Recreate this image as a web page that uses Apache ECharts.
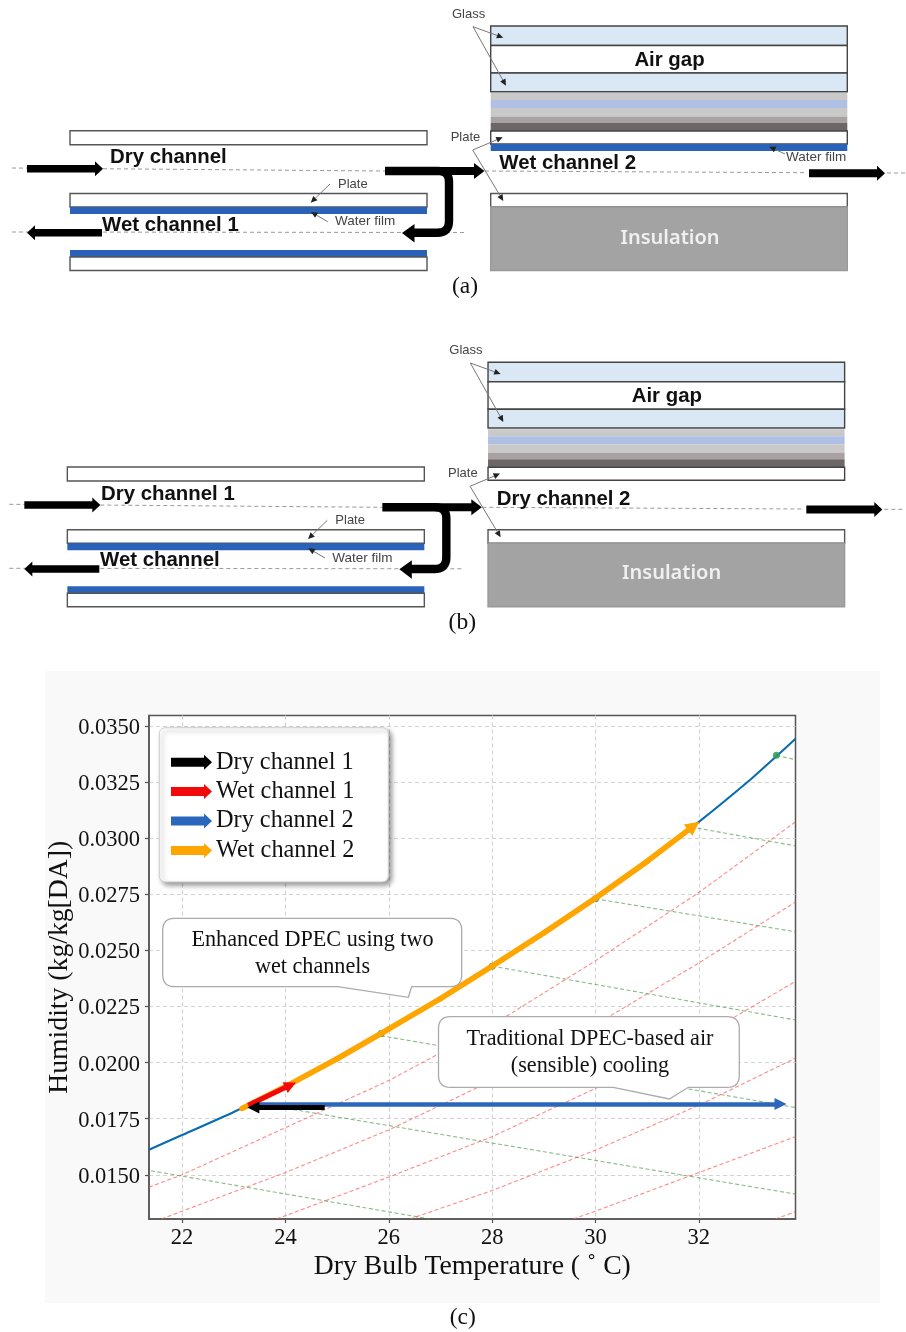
<!DOCTYPE html>
<html>
<head>
<meta charset="utf-8">
<style>html,body{margin:0;padding:0;background:#fff}#c{width:906px;height:1332px}</style>
<script src="https://cdn.jsdelivr.net/npm/echarts@6/dist/echarts.min.js"></script>
</head>
<body>
<div id="c"></div>
<script>
// ---- tick labels ----
const xTicks = [22, 24, 26, 28, 30, 32];
const yTicks = [0.015, 0.0175, 0.02, 0.0225, 0.025, 0.0275, 0.03, 0.0325, 0.035];
// ---- saturation curve ----
const saturation = [[21.36,0.01612],[22,0.01677],[23,0.0178],[24,0.01893],[25,0.02017],[26,0.0215],[27,0.02285],[28,0.0243],[29,0.02578],[30,0.02733],[31,0.02897],[32,0.03073],[33,0.03262],[33.5,0.03365],[33.87,0.03443]];
const statePoints = [[23.4,0.0182],[25.85,0.0213],[28,0.0243],[30,0.0273],[31.85,0.0304],[33.5,0.0337]];
// ---- process paths ----
const dryChannel1 = [[24.76,0.0180],[23.38,0.0180]];
const wetChannel1 = [[23.28,0.0181],[24.1,0.0190]];
const dryChannel2 = [[23.3,0.01815],[33.58,0.01815]];
const wetChannel2 = [[23.16,0.01796],[24,0.01893],[25,0.02017],[26,0.0215],[27,0.02285],[28,0.0243],[29,0.02578],[30,0.02733],[31,0.02897],[31.9,0.03055]];
// ---- green dashed lines ----
const green1 = [[33.5,0.0337],[33.87,0.0335]];
const green2 = [[31.85,0.0305],[33.87,0.02966]];
const green3 = [[30,0.0273],[33.87,0.02583]];
const green4 = [[28,0.0243],[33.87,0.0219]];
const green5 = [[25.85,0.0212],[33.87,0.0180]];
const green6 = [[23.4,0.0182],[33.87,0.01414]];
const green7 = [[21.4,0.01518],[26.8,0.01303]];
// ---- red dashed lines ----
const red1 = [[21.36,0.01445],[22,0.0150],[24,0.0171],[26,0.0192],[28,0.02167],[30,0.02454],[32,0.02758],[33.87,0.03073]];
const red2 = [[21.6,0.01303],[22,0.01338],[24,0.0151],[26,0.0170],[28,0.0192],[30,0.02169],[32,0.02444],[33.87,0.02716]];
const red3 = [[23.83,0.01303],[26,0.0149],[28,0.0167],[30,0.01885],[32,0.0211],[33.87,0.02362]];
const red4 = [[26.41,0.01303],[28,0.0143],[30,0.0161],[32,0.0181],[33.87,0.0202]];
const red5 = [[29.57,0.01303],[30,0.01338],[32,0.0151],[33.87,0.0167]];
const red6 = [[33.48,0.01303],[33.87,0.01335]];
// ---- text ----
const legendNames = ['Dry channel 1','Wet channel 1','Dry channel 2','Wet channel 2'];
const legendColors = ['#000000','#f20a0a','#2a66bc','#ffa500'];
const xLabel = 'Dry Bulb Temperature ( \u02DA C)';
const yLabel = 'Humidity (kg/kg[DA])';

const SERIF = '"Liberation Serif","Times New Roman",serif';
const SANS = '"Liberation Sans",Arial,sans-serif';
const ARROW_ICON = 'path://M0 3 L33 3 L33 0 L41 7.5 L33 15 L33 12 L0 12 Z';

function dashed(data, color){
  return {type:'line', data, showSymbol:false, symbol:'none', silent:true, z:2,
    lineStyle:{color, width:1.1, type:[4,2.5]}};
}
function arrowSeries(name, pts, color, width, size){
  const segs = [];
  for(let i=0;i<pts.length-1;i++){
    const d = {coords:[pts[i],pts[i+1]]};
    if(i===pts.length-2) d.symbol = ['none','triangle'];
    segs.push(d);
  }
  return {type:'lines', name, coordinateSystem:'cartesian2d', polyline:false, z:5,
    symbol:['none','none'], symbolSize:size, silent:true,
    lineStyle:{color, width, opacity:1, curveness:0, cap:pts.length>2?'round':'butt'}, itemStyle:{color}, data:segs};
}

// ---- schematic helpers (drawn in panel (a)'s frame, group moved for (b)) ----
function rect(x1,y1,x2,y2,fill,stroke,lw){
  return {type:'rect', shape:{x:x1,y:y1,width:x2-x1,height:y2-y1},
    style:{fill, stroke:stroke||null, lineWidth:lw==null?1.4:lw}};
}
function txt(text,x,y,font,fill,align){
  return {type:'text', style:{text,x,y,font,fill:fill||'#111',align:align||'left',verticalAlign:'middle'}};
}
function dash(x1,y1,x2,y2){
  return {type:'line', shape:{x1,y1,x2,y2}, style:{stroke:'#9a9a9a',lineWidth:1,lineDash:[4,3]}};
}
function blockArrow(x1,x2,y,t,h,l){
  const s = x2>x1?1:-1, b = x2-s*l;
  return {type:'polygon', shape:{points:[[x1,y-t/2],[b,y-t/2],[b,y-h/2],[x2,y],[b,y+h/2],[b,y+t/2],[x1,y+t/2]]}, style:{fill:'#000'}};
}
function pointer(x1,y1,x2,y2){
  const a = Math.atan2(y2-y1,x2-x1), L=6.5, W=3;
  const bx = x2-L*Math.cos(a), by = y2-L*Math.sin(a);
  return [
    {type:'line', shape:{x1,y1,x2:bx,y2:by}, style:{stroke:'#777',lineWidth:1}},
    {type:'polygon', shape:{points:[[x2,y2],[bx-W*Math.sin(a),by+W*Math.cos(a)],[bx+W*Math.sin(a),by-W*Math.cos(a)]]}, style:{fill:'#222'}}
  ];
}
// turn [x,y,radius] vertices into a point list with quadratic rounded corners
function rounded(v){
  const out=[], n=v.length;
  for(let i=0;i<n;i++){
    const c=v[i], r=c[2]||0;
    if(!r){ out.push([c[0],c[1]]); continue; }
    const p=v[(i-1+n)%n], q=v[(i+1)%n];
    const d1=Math.hypot(p[0]-c[0],p[1]-c[1]), d2=Math.hypot(q[0]-c[0],q[1]-c[1]);
    const a=[c[0]+(p[0]-c[0])*r/d1,c[1]+(p[1]-c[1])*r/d1], b=[c[0]+(q[0]-c[0])*r/d2,c[1]+(q[1]-c[1])*r/d2];
    for(let k=0;k<=8;k++){
      const t=k/8,u=1-t;
      out.push([u*u*a[0]+2*u*t*c[0]+t*t*b[0],u*u*a[1]+2*u*t*c[1]+t*t*b[1]]);
    }
  }
  return out;
}
const BLUE='#2a62b8', EDGE='#555555', GLASS='#dae7f5', BOLD='bold 20.4px '+SANS, SMALL='13px '+SANS, FILM='13.5px '+SANS;

function schematic(dx,dy,o){
  const L1=70,L2=427,R1=490.7,R2=847.3;
  const ch = [
    rect(L1,130.7,L2,144.7,'#fff',EDGE),
    rect(L1,193.5,L2,207,'#fff',EDGE),
    rect(L1,207,L2,214,BLUE),
    rect(L1,250,L2,257,BLUE),
    rect(L1,257,L2,270.5,'#fff',EDGE),
    dash(12,168,385,171), dash(485,171,807,172.7), dash(887,173,906,173), dash(12,232,465,232.5),
    blockArrow(27,103,168.7,7.6,15,8),
    blockArrow(102,27,232.7,7.6,15,8),
    {type:'polyline', shape:{points:rounded([[385,171],[449,171,11],[449,232.7,11.7],[412,232.7]])}, style:{fill:null,stroke:'#000',lineWidth:8.4}},
    blockArrow(438,484.5,171,8,16,10.5),
    {type:'polygon', shape:{points:[[402,233],[414.5,224],[414.5,242.5]]}, style:{fill:'#000'}},
    blockArrow(809,885,173.3,8,15,8),
    // right-hand stack
    rect(R1,26,R2,45.5,GLASS,'#444'),
    rect(R1,45.5,R2,73,'#fff','#444'),
    rect(R1,73,R2,91.7,GLASS,'#444'),
    rect(R1,93,R2,100,'#c9c9c9'),
    rect(R1,100,R2,108,'#b0c0e4'),
    rect(R1,108,R2,116.5,'#c9c9c9'),
    rect(R1,116.5,R2,123,'#a8a3a2'),
    rect(R1,123,R2,131,'#6c6666'),
    rect(R1,131,R2,144,'#fff','#444'),
    rect(R1,193.5,R2,207,'#fff',EDGE),
    rect(R1,207,R2,270.5,'#a3a3a3','#999999'),
    txt('Air gap',669.5,60,BOLD,'#111','center'),
    txt('Insulation',670+o.insDx,238+o.insDy,'600 20px "Noto Sans",'+SANS,'#f0f0f0','center'),
    txt('Glass',452,14,SMALL,'#444'),
    txt('Plate',450.7,137,SMALL,'#444'),
    txt('Plate',338,184,SMALL,'#444'),
    txt('Water film',335,221.5,FILM,'#444'),
    ...pointer(330,184,310.7,202.7),
    ...pointer(327.7,221.7,311,212),
    ...pointer(473,26.7,503.3,37.7),
    ...pointer(473,26.7,506,85.7),
    ...pointer(472.7,150,502.7,137.3),
    ...pointer(472.7,150,503.3,201),
    txt(o.t1,o.t1x,o.t1y,BOLD),
    txt(o.t2,o.t2x,o.t2y,BOLD),
    txt(o.t3,o.t3x,o.t3y,BOLD)
  ];
  if(o.wetRight){
    ch.push(rect(R1,144,R2,151,BLUE));
    ch.push(txt('Water film',786,157,FILM,'#444'));
    ch.push(...pointer(785,154,769.3,146.7));
  }
  return {type:'group', x:dx, y:dy, children:ch};
}
function callout(v){
  return {type:'polygon', z:10, shape:{points:rounded(v)}, style:{fill:'#fff',stroke:'#ababab',lineWidth:1.3}};
}
function cText(t,x,y){
  return {type:'text', z:11, style:{text:t,x,y,font:'22.2px '+SERIF,fill:'#111',align:'center',verticalAlign:'middle'}};
}

const chart = echarts.init(document.getElementById('c'), null, {renderer:'canvas', width:906, height:1332});
chart.setOption({
  animation:false,
  backgroundColor:'#ffffff',
  textStyle:{fontFamily:SERIF},
  grid:{left:149, top:715.5, width:646.5, height:503.5, show:true, backgroundColor:'#ffffff', borderColor:'#555555', borderWidth:1.5, containLabel:false},
  xAxis:{type:'value', min:21.36, max:33.87,
    name:xLabel, nameLocation:'middle', nameGap:34, nameMoveOverlap:false,
    nameTextStyle:{fontFamily:SERIF,fontSize:27.7,color:'#111'},
    axisLine:{show:true,onZero:false,lineStyle:{color:'#555555',width:1.5}},
    axisTick:{show:true,length:4,inside:false,customValues:xTicks,lineStyle:{color:'#555555',width:1.2}},
    axisLabel:{customValues:xTicks,margin:8,fontFamily:SERIF,fontSize:22.5,color:'#111',formatter:v=>String(v)},
    splitLine:{show:true,lineStyle:{color:'#d2d2d2',width:1.2,type:[4,3]}}},
  yAxis:{type:'value', min:0.01303, max:0.03547,
    name:yLabel, nameLocation:'middle', nameGap:75, nameMoveOverlap:false,
    nameTextStyle:{fontFamily:SERIF,fontSize:27.7,color:'#111'},
    axisLine:{show:true,onZero:false,lineStyle:{color:'#555555',width:1.5}},
    axisTick:{show:true,length:4,customValues:yTicks,lineStyle:{color:'#555555',width:1.2}},
    axisLabel:{customValues:yTicks,margin:9,fontFamily:SERIF,fontSize:22.5,color:'#111',
      formatter:v=>'{a|'+v.toFixed(4)+'}',
      rich:{a:{fontFamily:SERIF,fontSize:22.5,color:'#111',padding:[4,0,0,0]}}},
    splitLine:{show:true,lineStyle:{color:'#d2d2d2',width:1.2,type:[4,3]}}},
  legend:{show:true, orient:'vertical', left:159.3, top:727.7, selectedMode:false,
    backgroundColor:'#ffffff', borderColor:'#cfcfcf', borderWidth:1, borderRadius:6,
    shadowColor:'rgba(0,0,0,0.4)', shadowBlur:5, shadowOffsetX:3, shadowOffsetY:3,
    padding:[22.5,34,19.5,11.7], itemWidth:41, itemHeight:15, itemGap:5.4, z:6,
    textStyle:{fontFamily:SERIF,fontSize:24.3,color:'#111',padding:[0,0,0,-1]},
    data:legendNames.map((n,i)=>({name:n,icon:ARROW_ICON,itemStyle:{color:legendColors[i],borderWidth:0}}))},
  graphic:{elements:[
    {type:'rect', z:-5, shape:{x:45,y:671,width:835,height:632}, style:{fill:'#f9f9f9'}},
    schematic(0,0,{t1:'Dry channel',t1x:110,t1y:157,t2:'Wet channel 1',t2x:102,t2y:225,t3:'Wet channel 2',t3x:499.3,t3y:163,wetRight:true,insDx:0,insDy:0}),
    schematic(-2.67,336.3,{t1:'Dry channel 1',t1x:103.7,t1y:157.7,t2:'Wet channel',t2x:102.7,t2y:224.4,t3:'Dry channel 2',t3x:499.4,t3y:163,wetRight:false,insDx:4.3,insDy:-1.3}),
    {type:'text', style:{text:'(a)',x:465,y:287,font:'23.5px '+SERIF,fill:'#111',align:'center',verticalAlign:'middle'}},
    {type:'text', style:{text:'(b)',x:462.3,y:623,font:'23.5px '+SERIF,fill:'#111',align:'center',verticalAlign:'middle'}},
    {type:'text', style:{text:'(c)',x:462.7,y:1318,font:'23.5px '+SERIF,fill:'#111',align:'center',verticalAlign:'middle'}},
    callout([[162.7,918.3,12],[461.7,918.3,12],[461.7,986.7,12],[411.7,986.7],[408.3,997.3],[337.7,986.7],[162.7,986.7,12]]),
    cText('Enhanced DPEC using two',312.5,940),
    cText('wet channels',312.5,966.7),
    callout([[438.5,1016.7,12],[739.3,1016.7,12],[739.3,1087.3,12],[688.3,1087.3],[669.3,1099],[613.3,1087.3],[438.5,1087.3,12]]),
    cText('Traditional DPEC-based air',590,1039),
    cText('(sensible) cooling',590,1066)
  ]},
  series:[
    dashed(green1,'rgba(70,150,70,0.65)'), dashed(green2,'rgba(70,150,70,0.65)'), dashed(green3,'rgba(70,150,70,0.65)'),
    dashed(green4,'rgba(70,150,70,0.65)'), dashed(green5,'rgba(70,150,70,0.65)'), dashed(green6,'rgba(70,150,70,0.65)'), dashed(green7,'rgba(70,150,70,0.65)'),
    dashed(red1,'rgba(250,90,90,0.7)'), dashed(red2,'rgba(250,90,90,0.7)'), dashed(red3,'rgba(250,90,90,0.7)'),
    dashed(red4,'rgba(250,90,90,0.7)'), dashed(red5,'rgba(250,90,90,0.7)'), dashed(red6,'rgba(250,90,90,0.7)'),
    {type:'line', data:saturation, showSymbol:false, symbol:'none', smooth:0.2, silent:true, z:3, lineStyle:{color:'#0a6cb0',width:2.1}},
    {type:'scatter', data:statePoints, symbol:'circle', symbolSize:7, silent:true, z:3, itemStyle:{color:'#2a9a55',opacity:0.85}},
    arrowSeries('Wet channel 2', wetChannel2, legendColors[3], 5.6, 14),
    arrowSeries('Dry channel 2', dryChannel2, legendColors[2], 4.7, 12),
    arrowSeries('Wet channel 1', wetChannel1, legendColors[1], 5, 12),
    arrowSeries('Dry channel 1', dryChannel1, legendColors[0], 5.2, 12)
  ]
});
</script>
</body>
</html>
